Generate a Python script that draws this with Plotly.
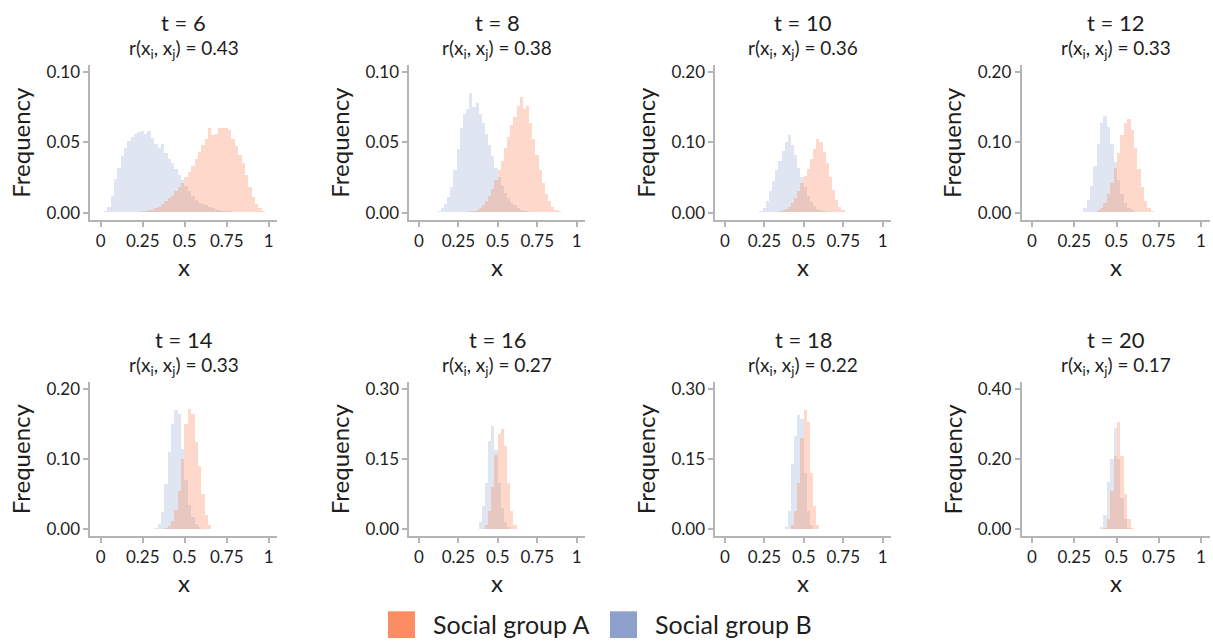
import plotly.graph_objects as go

# ---------------- data ----------------
T_VALUES = [6, 8, 10, 12, 14, 16, 18, 20]
R_VALUES = ["0.43", "0.38", "0.36", "0.33", "0.33", "0.27", "0.22", "0.17"]
Y_TICKS = [[0, 0.05, 0.10], [0, 0.05, 0.10], [0, 0.10, 0.20], [0, 0.10, 0.20],
           [0, 0.10, 0.20], [0, 0.15, 0.30], [0, 0.15, 0.30], [0, 0.20, 0.40]]
Y_TICK_LABELS = [["0.00", "0.05", "0.10"], ["0.00", "0.05", "0.10"], ["0.00", "0.10", "0.20"],
                 ["0.00", "0.10", "0.20"], ["0.00", "0.10", "0.20"], ["0.00", "0.15", "0.30"],
                 ["0.00", "0.15", "0.30"], ["0.00", "0.20", "0.40"]]
X_TICKS = [0, 0.25, 0.5, 0.75, 1]
X_TICK_LABELS = ["0", "0.25", "0.5", "0.75", "1"]
BIN_WIDTH = 0.02
GROUP_NAMES = ["Social group A", "Social group B"]

# first bin centre and relative frequencies per bin (group A = orange, group B = blue)
a_t6_first = 0.25
a_t6 = [0.001, 0.001, 0.002, 0.002, 0.003, 0.004, 0.006, 0.008, 0.010, 0.012, 0.015, 0.018,
        0.021, 0.025, 0.029, 0.033, 0.038, 0.043, 0.048, 0.052, 0.060, 0.055, 0.056, 0.060,
        0.060, 0.060, 0.059, 0.052, 0.047, 0.041, 0.035, 0.027, 0.018, 0.011, 0.006, 0.003, 0.001]
b_t6_first = 0.03
b_t6 = [0.001, 0.004, 0.012, 0.024, 0.032, 0.040, 0.046, 0.051, 0.054, 0.056, 0.057, 0.058,
        0.056, 0.058, 0.053, 0.049, 0.046, 0.049, 0.042, 0.038, 0.035, 0.031, 0.027, 0.023,
        0.019, 0.015, 0.012, 0.009, 0.007, 0.006, 0.005, 0.004, 0.003, 0.002, 0.002, 0.001,
        0.001, 0.001]

a_t8_first = 0.33
a_t8 = [0.001, 0.001, 0.002, 0.003, 0.005, 0.008, 0.012, 0.017, 0.023, 0.030, 0.037, 0.046,
        0.054, 0.062, 0.068, 0.076, 0.082, 0.074, 0.076, 0.064, 0.052, 0.041, 0.030, 0.021,
        0.013, 0.008, 0.004, 0.002, 0.001]
b_t8_first = 0.13
b_t8 = [0.001, 0.003, 0.006, 0.011, 0.018, 0.030, 0.045, 0.060, 0.070, 0.074, 0.085, 0.075,
        0.078, 0.070, 0.064, 0.056, 0.048, 0.040, 0.032, 0.025, 0.019, 0.014, 0.010, 0.007,
        0.005, 0.003, 0.002, 0.001, 0.001]

a_t10_first = 0.33
a_t10 = [0.001, 0.002, 0.003, 0.005, 0.008, 0.013, 0.020, 0.030, 0.042, 0.052, 0.062, 0.076,
         0.090, 0.104, 0.100, 0.086, 0.070, 0.050, 0.032, 0.018, 0.008, 0.003, 0.001]
b_t10_first = 0.21
b_t10 = [0.001, 0.002, 0.006, 0.016, 0.030, 0.045, 0.060, 0.074, 0.088, 0.100, 0.110, 0.096,
         0.082, 0.064, 0.050, 0.036, 0.024, 0.015, 0.009, 0.005, 0.003, 0.002, 0.001]

a_t12_first = 0.37
a_t12 = [0.001, 0.003, 0.007, 0.014, 0.026, 0.042, 0.064, 0.085, 0.110, 0.128, 0.133, 0.118,
         0.092, 0.062, 0.036, 0.017, 0.007, 0.002]
b_t12_first = 0.29
b_t12 = [0.001, 0.006, 0.018, 0.038, 0.066, 0.098, 0.128, 0.138, 0.122, 0.098, 0.072, 0.046,
         0.027, 0.014, 0.007, 0.003, 0.001]

a_t14_first = 0.39
a_t14 = [0.002, 0.005, 0.012, 0.028, 0.055, 0.100, 0.150, 0.172, 0.165, 0.125, 0.090, 0.050,
         0.020, 0.006, 0.001]
b_t14_first = 0.33
b_t14 = [0.002, 0.008, 0.025, 0.065, 0.110, 0.150, 0.170, 0.165, 0.115, 0.070, 0.035, 0.018,
         0.008, 0.003, 0.001]

a_t16_first = 0.41
a_t16 = [0.002, 0.010, 0.040, 0.090, 0.160, 0.205, 0.215, 0.178, 0.100, 0.040, 0.010, 0.002]
b_t16_first = 0.37
b_t16 = [0.002, 0.015, 0.050, 0.100, 0.190, 0.222, 0.170, 0.100, 0.045, 0.015, 0.005, 0.001]

a_t18_first = 0.41
a_t18 = [0.002, 0.010, 0.040, 0.100, 0.195, 0.255, 0.230, 0.120, 0.050, 0.010, 0.002]
b_t18_first = 0.39
b_t18 = [0.005, 0.040, 0.140, 0.200, 0.245, 0.235, 0.120, 0.040, 0.010, 0.002]

a_t20_first = 0.43
a_t20 = [0.005, 0.030, 0.110, 0.210, 0.305, 0.210, 0.100, 0.030, 0.005]
b_t20_first = 0.41
b_t20 = [0.008, 0.040, 0.135, 0.200, 0.290, 0.200, 0.090, 0.030, 0.005]

GROUP_A = [(a_t6_first, a_t6), (a_t8_first, a_t8), (a_t10_first, a_t10), (a_t12_first, a_t12),
           (a_t14_first, a_t14), (a_t16_first, a_t16), (a_t18_first, a_t18), (a_t20_first, a_t20)]
GROUP_B = [(b_t6_first, b_t6), (b_t8_first, b_t8), (b_t10_first, b_t10), (b_t12_first, b_t12),
           (b_t14_first, b_t14), (b_t16_first, b_t16), (b_t18_first, b_t18), (b_t20_first, b_t20)]

# ---------------- layout / style ----------------
W, H = 1213, 644
FONT = "Lato"
TXT = "#1e1e1e"
AX = "#b5b5b5"
COL_A = "rgba(252,141,98,0.33)"
COL_B = "rgba(141,160,203,0.28)"
SOLID_A = "#FC8D62"
SOLID_B = "#8DA0CB"

X_RANGE = [-0.062, 1.052]
# pixel positions of x=0 and x=1 for each column
COL_ZERO_ONE = [(100.7, 268.7), (419.0, 576.7), (725.0, 882.7), (1032.0, 1201.0)]
# pixel positions of y=0 and y=top tick for each row
ROW_ZERO_TOP = [(211.0, 69.0), (531.0, 389.0)]

fig = go.Figure()
annotations = []

for k in range(8):
    r, c = divmod(k, 4)
    sfx = "" if k == 0 else str(k + 1)
    z, o = COL_ZERO_ONE[c]
    s = o - z
    x_left = z + X_RANGE[0] * s
    x_right = z + X_RANGE[1] * s
    y0p, ytp = ROW_ZERO_TOP[r]
    ymax = Y_TICKS[k][-1]
    yr = [-0.05 * ymax, 1.05 * ymax]
    sy = (y0p - ytp) / ymax
    y_bot = y0p - yr[0] * sy
    y_top = y0p - yr[1] * sy

    fig.layout["xaxis" + sfx] = dict(
        domain=[x_left / W, x_right / W], range=X_RANGE, anchor="y" + sfx,
        tickvals=X_TICKS, ticktext=X_TICK_LABELS, showline=True, linecolor=AX, linewidth=1.6,
        ticks="outside", ticklen=5, tickwidth=1.6, tickcolor=AX, showgrid=False, zeroline=False,
        tickfont=dict(family=FONT, size=17, color=TXT),
    )
    fig.layout["yaxis" + sfx] = dict(
        domain=[1 - y_bot / H, 1 - y_top / H], range=yr, anchor="x" + sfx,
        tickvals=Y_TICKS[k], ticktext=Y_TICK_LABELS[k], showline=True, linecolor=AX, linewidth=1.6,
        ticks="outside", ticklen=5, tickwidth=1.6, tickcolor=AX, showgrid=False, zeroline=False,
        tickfont=dict(family=FONT, size=17, color=TXT),
    )

    for (first, vals), col, name in ((GROUP_B[k], COL_B, GROUP_NAMES[1]), (GROUP_A[k], COL_A, GROUP_NAMES[0])):
        xs = [first + i * BIN_WIDTH for i in range(len(vals))]
        fig.add_trace(go.Bar(
            x=xs, y=vals, width=BIN_WIDTH, name=name, showlegend=False,
            marker=dict(color=col, line=dict(width=0)),
            xaxis="x" + sfx, yaxis="y" + sfx,
        ))

    xc = ((x_left + x_right) / 2) / W
    title_y = 19 + r * 320
    annotations.append(dict(text=f"t = {T_VALUES[k]}", x=xc, y=1 - title_y / H, xref="paper", yref="paper",
                            showarrow=False, xanchor="center", yanchor="middle",
                            font=dict(family=FONT, size=22, color=TXT)))
    annotations.append(dict(text=f"r(x<sub>i</sub>, x<sub>j</sub>) = {R_VALUES[k]}", x=xc, y=1 - (title_y + 27) / H,
                            xref="paper", yref="paper", showarrow=False, xanchor="center", yanchor="middle",
                            font=dict(family=FONT, size=19, color=TXT)))
    annotations.append(dict(text="x", x=xc, y=1 - (265 + r * 320) / H, xref="paper", yref="paper",
                            showarrow=False, xanchor="center", yanchor="middle",
                            font=dict(family=FONT, size=24, color=TXT)))
    annotations.append(dict(text="Frequency", x=(x_left - 70) / W, y=1 - ((y_bot + y_top) / 2) / H,
                            xref="paper", yref="paper", showarrow=False, textangle=-90,
                            xanchor="center", yanchor="middle",
                            font=dict(family=FONT, size=24, color=TXT)))

# manual legend
shapes = []
legend_items = [(388, 415, GROUP_NAMES[0], SOLID_A), (610, 637, GROUP_NAMES[1], SOLID_B)]
for x0, x1, name, col in legend_items:
    shapes.append(dict(type="rect", xref="paper", yref="paper", x0=x0 / W, x1=x1 / W,
                       y0=1 - 641 / H, y1=1 - 614 / H, fillcolor=col, line=dict(width=0)))
    annotations.append(dict(text=name, x=(x1 + 16) / W, y=1 - 627 / H, xref="paper", yref="paper",
                            showarrow=False, xanchor="left", yanchor="middle",
                            font=dict(family=FONT, size=25, color=TXT)))

fig.update_layout(
    width=W, height=H, margin=dict(l=0, r=0, t=0, b=0),
    paper_bgcolor="white", plot_bgcolor="white",
    barmode="overlay", bargap=0, showlegend=False,
    annotations=annotations, shapes=shapes,
    font=dict(family=FONT, color=TXT),
)

fig.write_html("out.html")
